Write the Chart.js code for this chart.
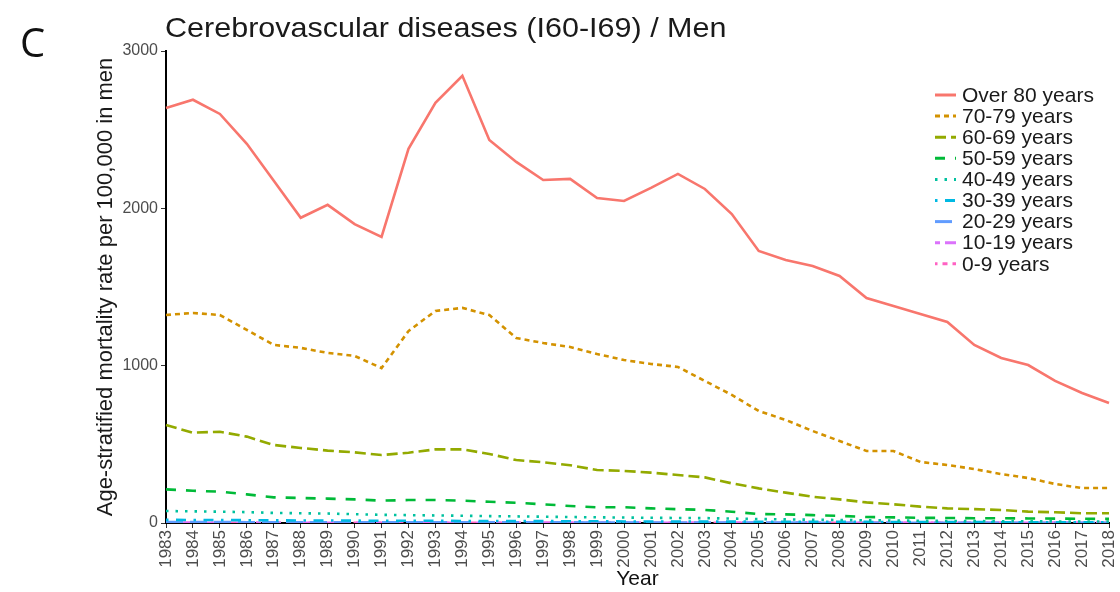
<!DOCTYPE html>
<html>
<head>
<meta charset="utf-8">
<script src="https://cdn.jsdelivr.net/npm/chart.js@4.4.1/dist/chart.umd.min.js"></script>
<style>
  html, body { margin: 0; padding: 0; background: #fff; }
  #wrap { width: 1120px; height: 592px; position: relative; }
</style>
</head>
<body>
<div id="wrap"><canvas id="grafico" width="1120" height="592"></canvas></div>
<script>
// chart.js - Cerebrovascular diseases / Men

const anos = ['1983','1984','1985','1986','1987','1988','1989','1990','1991','1992','1993','1994',
  '1995','1996','1997','1998','1999','2000','2001','2002','2003','2004','2005','2006','2007','2008',
  '2009','2010','2011','2012','2013','2014','2015','2016','2017','2018'];

const faixas = ['Over 80 years','70-79 years','60-69 years','50-59 years','40-49 years',
  '30-39 years','20-29 years','10-19 years','0-9 years'];

const yTicks = [0, 1000, 2000, 3000];

const over80 = [2638,2690,2600,2410,2175,1940,2022,1900,1818,2378,2670,2842,2435,2295,2180,2187,
  2066,2047,2130,2219,2123,1964,1729,1672,1634,1570,1430,1380,1329,1278,1132,1049,1004,903,826,763];
const a7079 = [1322,1335,1322,1227,1132,1113,1081,1062,985,1220,1348,1367,1322,1176,1144,1119,
  1074,1036,1011,992,903,814,712,655,585,521,458,458,388,369,343,311,286,248,222,222];
const a6069 = [623,574,580,549,496,477,460,449,432,447,468,468,439,400,386,367,337,331,320,305,
  290,252,220,193,167,150,131,119,104,93,88,83,72,68,62,62];
const a5059 = [214,205,199,182,163,159,155,150,142,146,146,142,135,129,119,108,100,100,93,88,83,
  72,57,55,50,45,38,36,33,32,30,30,29,28,27,26];
const a4049 = [76,74,72,69,64,62,60,56,52,50,48,46,44,42,40,38,36,35,33,32,31,28,25,23,21,19,17,
  16,14,13,12,11,11,10,10,10];
const a3039 = [20,19,19,18,17,16,16,15,14,14,14,13,13,12,12,11,11,10,10,10,9,9,8,8,7,7,7,6,6,6,
  6,5,5,5,5,5];
const a2029 = [6,6,6,5,5,5,5,5,5,4,4,4,4,4,4,4,3,3,3,3,3,3,3,3,2,2,2,2,2,2,2,2,2,2,2,2];
const a1019 = [2,2,2,2,2,2,2,2,2,2,2,2,1,1,1,1,1,1,1,1,1,1,1,1,1,1,1,1,1,1,1,1,1,1,1,1];
const a09 = [1,1,1,1,1,1,1,1,1,1,1,1,1,1,1,1,1,1,1,1,0.5,0.5,0.5,0.5,0.5,0.5,0.5,0.5,0.5,0.5,
  0.5,0.5,0.5,0.5,0.5,0.5];

const series = [over80, a7079, a6069, a5059, a4049, a3039, a2029, a1019, a09];
const cores = ['#F8766D','#D39200','#93AA00','#00BA38','#00C19F','#00B9E3','#619CFF','#DB72FB','#FF61C3'];
const tracos = [[], [5,4], [11,5], [10,10], [2.5,7], [2.5,7.5,10,7.5], [17,7], [5,5,15,5],
  [2.5,5,5,5,7.5,5,10,5]];

const FONTE = '"Liberation Sans", Arial, sans-serif';
const tituloY = 'Age-stratified mortality rate per 100,000 in men';

// titulo, letra do painel, titulo do eixo y e legenda desenhados a mao
const extras = {
  id: 'extras',
  afterDraw(chart) {
    const ctx = chart.ctx;
    const area = chart.chartArea;
    ctx.save();
    ctx.fillStyle = '#111';
    ctx.font = '40px "Open Sans", sans-serif';
    ctx.textBaseline = 'middle';
    ctx.textAlign = 'left';
    ctx.fillText('C', 20, 46);

    ctx.save();
    ctx.font = '28px ' + FONTE;
    ctx.fillStyle = '#1a1a1a';
    ctx.translate(165, 29);
    ctx.scale(1.09, 1);
    ctx.fillText('Cerebrovascular diseases (I60-I69) / Men', 0, 0);
    ctx.restore();

    ctx.save();
    ctx.font = '22px ' + FONTE;
    ctx.fillStyle = '#1a1a1a';
    ctx.textAlign = 'center';
    ctx.translate(106, (area.top + area.bottom) / 2);
    ctx.rotate(-Math.PI / 2);
    ctx.fillText(tituloY, 0, 0);
    ctx.restore();

    ctx.font = '21px ' + FONTE;
    chart.data.datasets.forEach((ds, i) => {
      const y = 95 + i * 21.1;
      ctx.strokeStyle = ds.borderColor;
      ctx.lineWidth = 3;
      ctx.setLineDash(ds.borderDash);
      ctx.beginPath();
      ctx.moveTo(935, y);
      ctx.lineTo(956, y);
      ctx.stroke();
      ctx.setLineDash([]);
      ctx.fillStyle = '#1a1a1a';
      ctx.fillText(ds.label, 962, y + 1);
    });
    ctx.restore();
  }
};

const ctx = document.getElementById('grafico').getContext('2d');

new Chart(ctx, {
  type: 'line',
  data: {
    labels: anos,
    datasets: faixas.map((nome, i) => ({
      label: nome,
      data: series[i],
      borderColor: cores[i],
      backgroundColor: cores[i],
      borderDash: tracos[i],
      borderWidth: 2.6,
      pointRadius: 0,
      tension: 0,
      fill: false
    }))
  },
  options: {
    responsive: false,
    animation: false,
    layout: { padding: { left: 0, right: 11, top: 51, bottom: 0 } },
    plugins: {
      legend: { display: false },
      tooltip: { enabled: false }
    },
    scales: {
      x: {
        offset: false,
        afterFit: (s) => { s.height = 69; s.paddingLeft = 0; s.paddingRight = 0; },
        grid: { display: true, drawOnChartArea: false, tickLength: 5, color: '#333' },
        border: { display: true, color: '#000', width: 2 },
        ticks: {
          minRotation: 90, maxRotation: 90, autoSkip: false,
          color: '#4d4d4d', padding: 2,
          font: { family: FONTE, size: 17 }
        },
        title: {
          display: true, text: 'Year', color: '#111',
          font: { family: FONTE, size: 21 }, padding: { top: 0, bottom: 0 }
        }
      },
      y: {
        min: 0, max: 3000,
        afterFit: (s) => { s.width = 166; s.paddingTop = 0; s.paddingBottom = 0; },
        afterBuildTicks: (s) => { s.ticks = yTicks.map(v => ({ value: v })); },
        grid: { display: true, drawOnChartArea: false, tickLength: 5, color: '#333' },
        border: { display: true, color: '#000', width: 2 },
        ticks: {
          color: '#4d4d4d', padding: 3,
          font: { family: FONTE, size: 16 },
          callback: (v) => String(v)
        }
      }
    }
  },
  plugins: [extras]
});
</script>
</body>
</html>
